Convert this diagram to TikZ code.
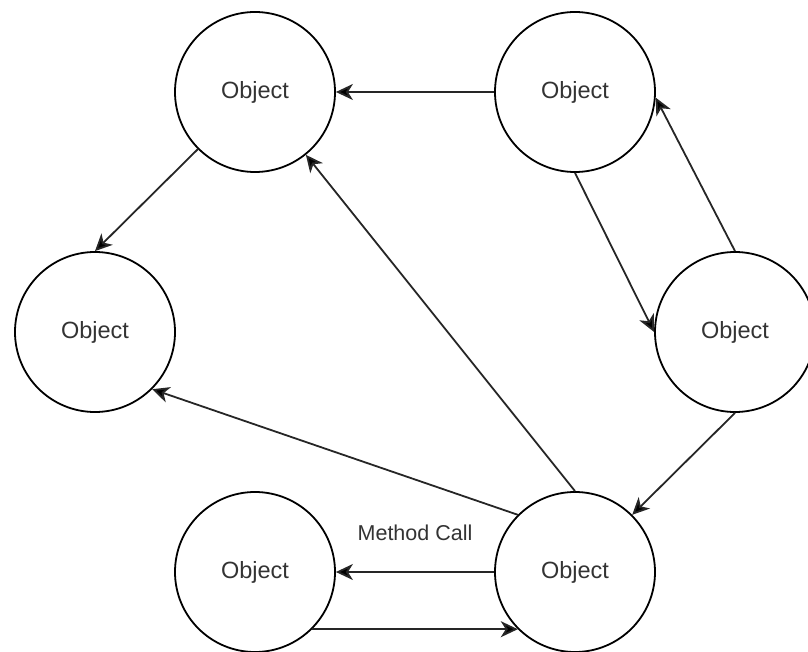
\documentclass[tikz,border=0pt]{standalone}
\usepackage{fontspec}
\setmainfont{Liberation Sans}
\usetikzlibrary{arrows.meta}
\begin{document}
\begin{tikzpicture}[x=1pt,y=-1pt,
  obj/.style={circle,draw=black,line width=1.8pt,minimum size=160pt,inner sep=0pt,
    font=\fontsize{23.5}{28}\selectfont,text=black!80},
  link/.style={draw=black!85,line width=1.8pt,
    -{Stealth[length=17pt,width=16pt,inset=5pt,fill=black]}},
  lbl/.style={font=\fontsize{21.5}{26}\selectfont,text=black!80,inner sep=0pt},
]
\clip (0,0) rectangle (808,652);

% objects
\node[obj] (A) at (255,92)  {\raisebox{-2pt}{Object}};
\node[obj] (B) at (575,92)  {\raisebox{-2pt}{Object}};
\node[obj] (C) at (95,332)  {\raisebox{-2pt}{Object}};
\node[obj] (D) at (735,332) {\raisebox{-2pt}{Object}};
\node[obj] (E) at (575,572) {\raisebox{-2pt}{Object}};
\node[obj] (F) at (255,572) {\raisebox{-2pt}{Object}};

% calls between objects
\draw[link] (B.180) -- (A.0);
\draw[link] (A.225) -- (C.90);
\draw[link] (B.270) -- (D.180);
\draw[link] (D.90)  -- (B.-4);
\draw[link] (D.270) -- (E.45);
\draw[link] (E.90)  -- (A.-51);
\draw[link] (E.135) -- (C.-45);
\draw[link] (E.180) -- node[lbl,yshift=39pt] {Method Call} (F.0);
\draw[link] (F.-45) -- (E.-135);
\end{tikzpicture}
\end{document}
